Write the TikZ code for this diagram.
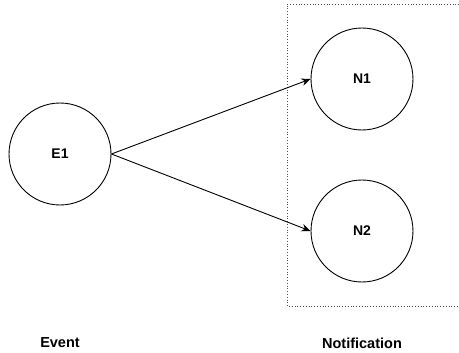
\documentclass[tikz,border=0pt]{standalone}
\usepackage{fontspec}
\setmainfont{Liberation Sans}
\usetikzlibrary{arrows.meta, positioning}

\begin{document}
\begin{tikzpicture}[
        x=1pt, y=-1pt,
        state/.style={circle, draw, line width=0.9pt, minimum size=102pt, inner sep=0pt, font=\fontsize{14}{16}\selectfont\bfseries},
        label/.style={font=\fontsize{14.5}{17}\selectfont\bfseries},
        arrow/.style={-{Stealth[length=9pt, width=7.5pt]}, line width=0.9pt}
    ]
        \useasboundingbox (0,0) rectangle (459,353);

        % Notification group
        \draw[dotted, line width=0.8pt, black!70] (459,4) -- (287,4) -- (287,306) -- (459,306);

        % Event
        \node[state] (e1) at (60,154) {E1};
        \node[label] (event) at (60,343) {Event};

        % Notifications
        \node[state] (n1) at (362,79) {N1};
        \node[state] (n2) at (362,231) {N2};
        \node[label] (notif) at (362,343) {Notification};

        \draw[arrow] (e1.east) -- (n1.west);
        \draw[arrow] (e1.east) -- (n2.west);

    \end{tikzpicture}
\end{document}
